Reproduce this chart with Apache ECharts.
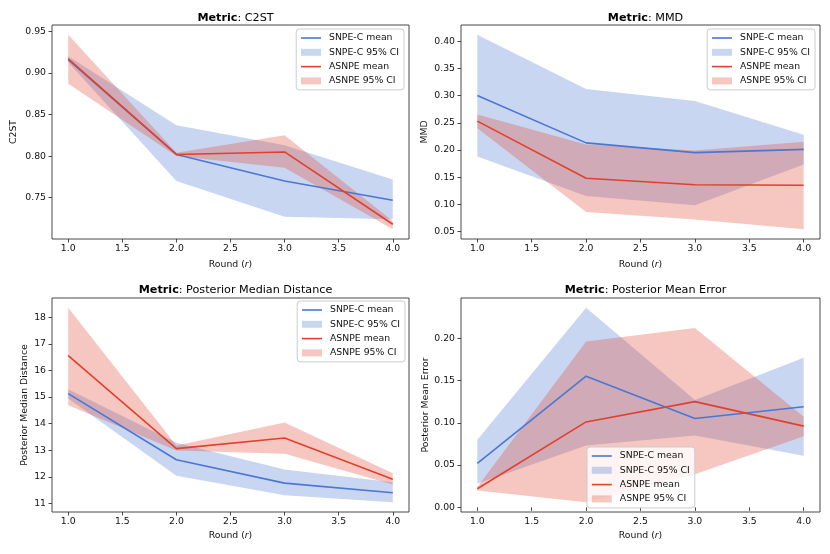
<!DOCTYPE html>
<html>
<head>
<meta charset="utf-8">
<script src="https://cdn.jsdelivr.net/npm/echarts@6/dist/echarts.min.js"></script>
<style>
html,body{margin:0;padding:0;background:#fff;}
#chart{width:830px;height:554px;}
</style>
</head>
<body>
<div id="chart"></div>
<script>
// ---- data ----
const rounds = [1, 2, 3, 4];
const xTicks = [1.0, 1.5, 2.0, 2.5, 3.0, 3.5, 4.0];

const titles = ['C2ST', 'MMD', 'Posterior Median Distance', 'Posterior Mean Error'];
const yNames = ['C2ST', 'MMD', 'Posterior Median Distance', 'Posterior Mean Error'];

const c2stTicks = [0.75, 0.80, 0.85, 0.90, 0.95];
const mmdTicks = [0.05, 0.10, 0.15, 0.20, 0.25, 0.30, 0.35, 0.40];
const medTicks = [11, 12, 13, 14, 15, 16, 17, 18];
const errTicks = [0.00, 0.05, 0.10, 0.15, 0.20];

const c2stSnpeMean = [0.916, 0.802, 0.770, 0.747];
const c2stSnpeLo   = [0.913, 0.770, 0.727, 0.724];
const c2stSnpeHi   = [0.920, 0.837, 0.813, 0.772];
const c2stAsnpeMean = [0.917, 0.802, 0.805, 0.718];
const c2stAsnpeLo   = [0.887, 0.800, 0.786, 0.712];
const c2stAsnpeHi   = [0.946, 0.804, 0.825, 0.722];

const mmdSnpeMean = [0.300, 0.213, 0.195, 0.201];
const mmdSnpeLo   = [0.188, 0.115, 0.098, 0.173];
const mmdSnpeHi   = [0.412, 0.312, 0.290, 0.228];
const mmdAsnpeMean = [0.253, 0.148, 0.136, 0.135];
const mmdAsnpeLo   = [0.240, 0.086, 0.072, 0.054];
const mmdAsnpeHi   = [0.265, 0.210, 0.199, 0.215];

const medSnpeMean = [15.13, 12.64, 11.76, 11.40];
const medSnpeLo   = [14.94, 12.04, 11.30, 11.04];
const medSnpeHi   = [15.29, 13.28, 12.27, 11.79];
const medAsnpeMean = [16.56, 13.06, 13.46, 11.91];
const medAsnpeLo   = [14.69, 12.99, 12.87, 11.71];
const medAsnpeHi   = [18.36, 13.18, 14.04, 12.13];

const errSnpeMean = [0.052, 0.155, 0.105, 0.119];
const errSnpeLo   = [0.028, 0.073, 0.085, 0.061];
const errSnpeHi   = [0.080, 0.236, 0.127, 0.177];
const errAsnpeMean = [0.022, 0.101, 0.125, 0.096];
const errAsnpeLo   = [0.020, 0.006, 0.039, 0.084];
const errAsnpeHi   = [0.024, 0.196, 0.212, 0.107];

// ---- styling / layout ----
const FONT = 'DejaVu Sans';
const FS = 9.3;
const BLUE = '#4a77d3';
const RED = '#e0412d';
const BLUE_BAND = 'rgba(75,119,209,0.3)';
const RED_BAND = 'rgba(224,68,47,0.3)';
const LW = 1.6;

const panels = [
  { snpe: [c2stSnpeMean, c2stSnpeLo, c2stSnpeHi], asnpe: [c2stAsnpeMean, c2stAsnpeLo, c2stAsnpeHi], ticks: c2stTicks, dec: 2 },
  { snpe: [mmdSnpeMean, mmdSnpeLo, mmdSnpeHi], asnpe: [mmdAsnpeMean, mmdAsnpeLo, mmdAsnpeHi], ticks: mmdTicks, dec: 2 },
  { snpe: [medSnpeMean, medSnpeLo, medSnpeHi], asnpe: [medAsnpeMean, medAsnpeLo, medAsnpeHi], ticks: medTicks, dec: 0 },
  { snpe: [errSnpeMean, errSnpeLo, errSnpeHi], asnpe: [errAsnpeMean, errAsnpeLo, errAsnpeHi], ticks: errTicks, dec: 2 }
];

const layout = [
  { grid: { left: 52, top: 25, width: 357, height: 214 }, yGap: 34, xGap: 21, legend: { right: 426, top: 29 }, titleTop: 8 },
  { grid: { left: 461, top: 25, width: 359, height: 214 }, yGap: 32, xGap: 21, legend: { right: 15, top: 29 }, titleTop: 8 },
  { grid: { left: 52, top: 298, width: 357, height: 214 }, yGap: 23, xGap: 19, legend: { right: 425, top: 301 }, titleTop: 280 },
  { grid: { left: 461, top: 298, width: 359, height: 214 }, yGap: 31, xGap: 19, legend: { left: 587, top: 447 }, titleTop: 280 }
];

function range(p) {
  const all = [].concat(p.snpe[1], p.snpe[2], p.asnpe[1], p.asnpe[2], p.snpe[0], p.asnpe[0]);
  const mn = Math.min.apply(null, all), mx = Math.max.apply(null, all);
  const m = (mx - mn) * 0.05;
  return [mn - m, mx + m];
}

function bandSeries(i, name, lo, hi, color) {
  return {
    type: 'custom', name: name, xAxisIndex: i, yAxisIndex: i, z: 1, silent: true,
    data: rounds.map((x, k) => [x, lo[k], hi[k]]),
    encode: { x: 0, y: [1, 2] },
    itemStyle: { color: color },
    renderItem: function (params, api) {
      if (params.dataIndex !== 0) return null;
      const pts = [];
      for (let k = 0; k < rounds.length; k++) pts.push(api.coord([rounds[k], hi[k]]));
      for (let k = rounds.length - 1; k >= 0; k--) pts.push(api.coord([rounds[k], lo[k]]));
      return { type: 'polygon', shape: { points: pts }, style: { fill: color, stroke: null } };
    }
  };
}

const grids = [], xAxes = [], yAxes = [], series = [], legends = [], titleArr = [];

panels.forEach((p, i) => {
  const L = layout[i];
  grids.push(Object.assign({ show: true, borderColor: '#333', borderWidth: 0.9, backgroundColor: 'transparent', containLabel: false, outerBoundsMode: 'none' }, L.grid));
  const r = range(p);
  xAxes.push({
    type: 'value', gridIndex: i, min: 0.85, max: 4.15,
    name: 'Round ({i|r})', nameLocation: 'middle', nameGap: L.xGap,
    nameTextStyle: { fontFamily: FONT, fontSize: FS, color: '#111', rich: { i: { fontStyle: 'italic', fontFamily: FONT, fontSize: FS, color: '#111' } } },
    axisLine: { show: false },
    splitLine: { show: false },
    axisTick: { show: true, inside: false, length: 3.5, customValues: xTicks, lineStyle: { color: '#333', width: 0.9 } },
    axisLabel: { customValues: xTicks, formatter: v => v.toFixed(1), fontFamily: FONT, fontSize: FS, color: '#111', margin: 5, showMinLabel: true, showMaxLabel: true }
  });
  yAxes.push({
    type: 'value', gridIndex: i, min: r[0], max: r[1],
    name: yNames[i], nameLocation: 'middle', nameGap: L.yGap,
    nameTextStyle: { fontFamily: FONT, fontSize: FS, color: '#111' },
    axisLine: { show: false },
    splitLine: { show: false },
    axisTick: { show: true, inside: false, length: 3.5, customValues: p.ticks, lineStyle: { color: '#333', width: 0.9 } },
    axisLabel: { customValues: p.ticks, formatter: v => v.toFixed(p.dec), fontFamily: FONT, fontSize: FS, color: '#111', margin: 6 }
  });
  titleArr.push({
    text: '{b|Metric}: ' + titles[i],
    left: L.grid.left + L.grid.width / 2, top: L.titleTop, textAlign: 'center',
    textStyle: { fontFamily: FONT, fontSize: 11.2, fontWeight: 'normal', color: '#000',
      rich: { b: { fontFamily: FONT, fontSize: 11.2, fontWeight: 'bold', color: '#000' } } }
  });
  series.push(bandSeries(i, 'SNPE-C 95% CI', p.snpe[1], p.snpe[2], BLUE_BAND));
  series.push(bandSeries(i, 'ASNPE 95% CI', p.asnpe[1], p.asnpe[2], RED_BAND));
  series.push({
    type: 'line', name: 'SNPE-C mean', xAxisIndex: i, yAxisIndex: i,
    data: rounds.map((x, k) => [x, p.snpe[0][k]]), symbol: 'none', lineStyle: { color: BLUE, width: LW }, itemStyle: { color: BLUE }, z: 3
  });
  series.push({
    type: 'line', name: 'ASNPE mean', xAxisIndex: i, yAxisIndex: i,
    data: rounds.map((x, k) => [x, p.asnpe[0][k]]), symbol: 'none', lineStyle: { color: RED, width: LW }, itemStyle: { color: RED }, z: 3
  });
  legends.push(Object.assign({
    orient: 'vertical', itemWidth: 20, itemHeight: 7, itemGap: 3.3,
    padding: [3.5, 5, 3.5, 4], borderColor: '#ccc', borderWidth: 1, borderRadius: 3,
    backgroundColor: 'rgba(255,255,255,0.8)', selectedMode: false,
    textStyle: { fontFamily: FONT, fontSize: FS, color: '#111', lineHeight: 11, padding: [0, 0, 0, 3] },
    data: [
      { name: 'SNPE-C mean', itemStyle: { color: 'rgba(0,0,0,0)', borderWidth: 0 }, lineStyle: { color: BLUE, width: LW } },
      { name: 'SNPE-C 95% CI', icon: 'rect', itemStyle: { color: BLUE_BAND } },
      { name: 'ASNPE mean', itemStyle: { color: 'rgba(0,0,0,0)', borderWidth: 0 }, lineStyle: { color: RED, width: LW } },
      { name: 'ASNPE 95% CI', icon: 'rect', itemStyle: { color: RED_BAND } }
    ]
  }, L.legend));
});

const chart = echarts.init(document.getElementById('chart'), null, { renderer: 'canvas' });
chart.setOption({
  animation: false,
  backgroundColor: '#fff',
  title: titleArr,
  grid: grids,
  xAxis: xAxes,
  yAxis: yAxes,
  legend: legends,
  series: series
});
</script>
</body>
</html>
